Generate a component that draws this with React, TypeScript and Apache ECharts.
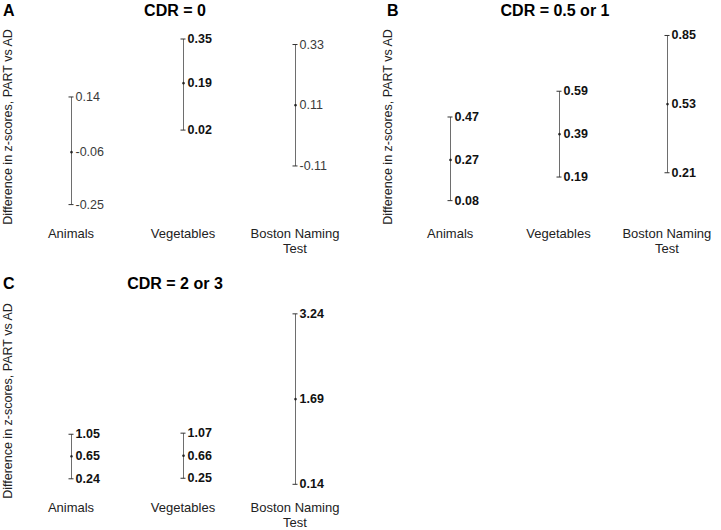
import React, { useEffect, useRef } from "react";
import * as echarts from "echarts";

const categories = ["Animals", "Vegetables", "Boston Naming\nTest"];

const lowerA = [-0.25, 0.02, -0.11];
const meanA = [-0.06, 0.19, 0.11];
const upperA = [0.14, 0.35, 0.33];
const sigA = [false, true, false];

const lowerB = [0.08, 0.19, 0.21];
const meanB = [0.27, 0.39, 0.53];
const upperB = [0.47, 0.59, 0.85];
const sigB = [true, true, true];

const lowerC = [0.24, 0.25, 0.14];
const meanC = [0.65, 0.66, 1.69];
const upperC = [1.05, 1.07, 3.24];
const sigC = [true, true, true];

const panelTitles = ["CDR = 0", "CDR = 0.5 or 1", "CDR = 2 or 3"];
const panelLetters = ["A", "B", "C"];
const yLabel = "Difference in z-scores, PART vs AD";

const FONT = "'Liberation Sans', Arial, Helvetica, sans-serif";

function buildData(lower: number[], mean: number[], upper: number[], sig: boolean[]) {
  return categories.map((_, i) => [i, lower[i], mean[i], upper[i], sig[i] ? 1 : 0]);
}

function renderItem(params: any, api: any) {
  const i = api.value(0);
  const lo = api.coord([i, api.value(1)]);
  const mid = api.coord([i, api.value(2)]);
  const hi = api.coord([i, api.value(3)]);
  const bold = api.value(4) === 1;
  const x = Math.round(lo[0]) + 0.5;
  const textColor = bold ? "#111111" : "#3a3a3a";
  const lineColor = "#6e6e6e";
  const fmt = (v: number) => v.toFixed(2);
  const mkText = (y: number, v: number) => ({
    type: "text",
    x: x + 4,
    y: y,
    style: {
      text: fmt(v),
      fill: textColor,
      fontFamily: FONT,
      fontSize: 12.5,
      fontWeight: bold ? "bold" : "normal",
      textAlign: "left",
      textVerticalAlign: "middle",
    },
  });
  return {
    type: "group",
    children: [
      { type: "line", shape: { x1: x, y1: hi[1], x2: x, y2: lo[1] }, style: { stroke: lineColor, lineWidth: 1 } },
      { type: "line", shape: { x1: x - 3, y1: hi[1], x2: x + 2, y2: hi[1] }, style: { stroke: "#333", lineWidth: 1 } },
      { type: "line", shape: { x1: x - 3, y1: lo[1], x2: x + 2, y2: lo[1] }, style: { stroke: "#333", lineWidth: 1 } },
      { type: "circle", shape: { cx: x, cy: mid[1], r: 1.3 }, style: { fill: "#222" } },
      mkText(hi[1], api.value(3)),
      mkText(mid[1], api.value(2)),
      mkText(lo[1], api.value(1)),
    ],
  };
}

export default function App() {
  const ref = useRef<HTMLDivElement>(null);
  useEffect(() => {
    if (!ref.current) return;
    const chart = echarts.init(ref.current, undefined, { renderer: "svg" });

    const grids = [
      { left: 15, width: 336, top: 25.2, height: 193.2 },
      { left: 396, width: 336, top: 24.75, height: 193.05 },
      { left: 15, width: 336, top: 299.55, height: 194.25 },
    ];
    const yRanges = [
      [-0.3, 0.4],
      [0, 0.9],
      [0, 3.5],
    ];
    const datasets = [
      buildData(lowerA, meanA, upperA, sigA),
      buildData(lowerB, meanB, upperB, sigB),
      buildData(lowerC, meanC, upperC, sigC),
    ];

    const letterPos = [
      [3, 10],
      [387, 10],
      [3, 283],
    ];
    const titlePos = [
      [175, 10],
      [555, 10],
      [175, 283],
    ];
    const ylabPos = [
      [8, 127],
      [388, 127],
      [8, 401],
    ];

    const graphic: any[] = [];
    for (let p = 0; p < 3; p++) {
      graphic.push({
        type: "text",
        x: letterPos[p][0],
        y: letterPos[p][1],
        style: { text: panelLetters[p], font: `bold 16px ${FONT}`, fill: "#000", textAlign: "left", textVerticalAlign: "middle" },
      });
      graphic.push({
        type: "text",
        x: titlePos[p][0],
        y: titlePos[p][1],
        style: { text: panelTitles[p], font: `bold 16px ${FONT}`, fill: "#000", textAlign: "center", textVerticalAlign: "middle" },
      });
      graphic.push({
        type: "text",
        x: ylabPos[p][0],
        y: ylabPos[p][1],
        rotation: Math.PI / 2,
        style: { text: yLabel, font: `12.5px ${FONT}`, fill: "#222", textAlign: "center", textVerticalAlign: "middle" },
      });
    }

    chart.setOption({
      animation: false,
      backgroundColor: "#fff",
      grid: grids.map((g) => ({ ...g, containLabel: false })),
      xAxis: grids.map((_, p) => ({
        type: "category",
        gridIndex: p,
        data: categories,
        boundaryGap: true,
        axisLine: { show: false },
        axisTick: { show: false },
        axisLabel: { color: "#222", fontSize: 13, fontFamily: FONT, margin: 8, lineHeight: 15, interval: 0, hideOverlap: false },
      })),
      yAxis: grids.map((_, p) => ({
        type: "value",
        gridIndex: p,
        min: yRanges[p][0],
        max: yRanges[p][1],
        show: false,
        splitLine: { show: false },
      })),
      series: datasets.map((d, p) => ({
        type: "custom",
        xAxisIndex: p,
        yAxisIndex: p,
        data: d,
        renderItem,
        clip: false,
        itemStyle: { color: "#333" },
      })),
      graphic,
    });
    return () => chart.dispose();
  }, []);
  return <div ref={ref} style={{ position: "fixed", left: 0, top: 0, width: 721, height: 530 }} />;
}
